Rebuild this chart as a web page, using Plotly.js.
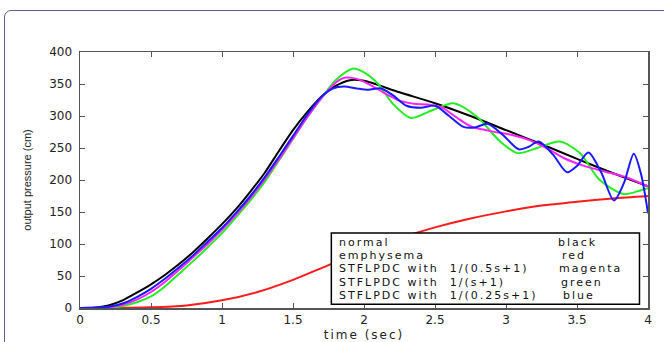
<!DOCTYPE html>
<html>
<head>
<meta charset="utf-8">
<script src="https://cdn.plot.ly/plotly-3.0.1.min.js"></script>
<style>
  html, body { margin: 0; padding: 0; background: #ffffff; }
  #frame { position: absolute; left: 4px; top: 10px; width: 720px; height: 420px;
           border: 1px solid #5c5c8e; border-radius: 7px; background: #ffffff; }
  #chart { position: absolute; left: 0; top: 0; width: 664px; height: 342px; }
  #chart .annotation-text { letter-spacing: 2px; }
  #chart .xtitle { letter-spacing: 2px; }
</style>
</head>
<body>
<div id="frame"></div>
<div id="chart"></div>
<script>
// ---- data ----
const tNormal = [0,0.1,0.2,0.3,0.4,0.5,0.6,0.7,0.8,0.9,1.0,1.1,1.2,1.3,1.4,1.5,1.6,1.7,1.8,1.9,2.0,2.25,2.5,2.75,3.0,3.25,3.5,3.75,4.0];
const pNormal = [0,0.5,4,12,24,37,52,69,88,109,131,155,182,211,245,278,306,330,347,356,355,337,320,300,278,256,233,211,190];

const tEmph = [0,0.25,0.5,0.75,1.0,1.25,1.5,1.75,2.0,2.25,2.5,2.75,3.0,3.25,3.5,3.75,4.0];
const pEmph = [0,0,1,4,12,25,44,67,89,109,126,140,151,160,166,171,175];

const tMag = [0,0.2,0.3,0.4,0.5,0.6,0.7,0.8,0.9,1.0,1.1,1.2,1.3,1.4,1.5,1.6,1.7,1.8,1.87,1.95,2.05,2.15,2.25,2.35,2.45,2.55,2.65,2.75,2.9,3.05,3.17,3.3,3.41,3.55,3.7,3.85,4.0];
const pMag = [0,1,5,13,25,41,60,80,100,122,146,172,201,232,265,298,328,352,360,358,348,335,324,319,318,313,298,284,276,270,262,248,234,222,213,204,190];

const tGreen = [0,0.2,0.3,0.4,0.5,0.6,0.7,0.8,0.9,1.0,1.1,1.2,1.3,1.4,1.5,1.6,1.7,1.8,1.92,2.0,2.1,2.2,2.33,2.48,2.63,2.8,2.95,3.08,3.22,3.38,3.52,3.66,3.83,3.95,4.0];
const pGreen = [0,0,3,9,18,34,54,74,95,117,142,168,197,230,264,298,328,356,374,368,350,320,297,309,320,298,262,242,250,260,242,200,178,184,187];

const tBlue = [0,0.15,0.2,0.3,0.4,0.5,0.6,0.7,0.8,0.9,1.0,1.1,1.2,1.3,1.4,1.5,1.6,1.7,1.78,1.86,1.95,2.03,2.12,2.2,2.3,2.4,2.5,2.6,2.7,2.78,2.87,2.98,3.09,3.16,3.23,3.33,3.43,3.5,3.58,3.67,3.76,3.83,3.9,3.95,4.0];
const pBlue = [0,1,2,7,17,30,46,64,83,104,125,149,175,204,236,269,302,330,343,346,343,341,343,333,316,313,316,300,283,282,288,270,248,252,260,240,212,222,243,212,168,195,241,210,148];

const legendNames  = ["normal", "emphysema", "STFLPDC with\u00A0 1/(0.5s+1)", "STFLPDC with\u00A0 1/(s+1)", "STFLPDC with\u00A0 1/(0.25s+1)"];
const legendColors = ["black", "red", "magenta", "green", "blue"];
const xTicks = [0,0.5,1,1.5,2,2.5,3,3.5,4];
const xTickText = ["0","0.5","1","1.5","2","2.5","3","3.5","4"];
const yTicks = [0,50,100,150,200,250,300,350,400];

// ---- styling ----
const FONT = "DejaVu Sans, Arial, sans-serif";
const LETTER_SPACING = 2;
function line(t, p, color, name) {
  return { x: t, y: p, type: "scatter", mode: "lines", name: name,
           line: { color: color, width: 2, shape: "spline", smoothing: 0.8 },
           hoverinfo: "skip" };
}
const traces = [
  line(tNormal, pNormal, "#000000", legendNames[0]),
  line(tEmph, pEmph, "#ff1a1a", legendNames[1]),
  line(tGreen, pGreen, "#22ee22", legendNames[3]),
  line(tMag, pMag, "#ff22ff", legendNames[2]),
  line(tBlue, pBlue, "#1a1aff", legendNames[4])
];

// legend box drawn as text (letter-spacing widens centred text on both sides,
// so shift right by half of the added width to keep the left edge in place)
const rowY = [102.2, 81.6, 61, 40.4, 19.8];
const colX = [3.359, 3.387, 3.366, 3.380, 3.394];
const annotations = [];
for (let i = 0; i < legendNames.length; i++) {
  annotations.push({ x: 1.817, y: rowY[i], xref: "x", yref: "y", text: legendNames[i],
    showarrow: false, xanchor: "left", yanchor: "middle", borderpad: 0,
    xshift: legendNames[i].length * LETTER_SPACING / 2,
    font: { family: FONT, size: 11, color: "#111" } });
  annotations.push({ x: colX[i], y: rowY[i], xref: "x", yref: "y", text: legendColors[i],
    showarrow: false, xanchor: "left", yanchor: "middle", borderpad: 0,
    xshift: legendColors[i].length * LETTER_SPACING / 2,
    font: { family: FONT, size: 11, color: "#111" } });
}

const layout = {
  width: 664, height: 342,
  margin: { l: 80, r: 16, t: 52, b: 34 },
  paper_bgcolor: "rgba(0,0,0,0)",
  plot_bgcolor: "#ffffff",
  showlegend: false,
  font: { family: FONT, size: 12, color: "#222" },
  xaxis: {
    range: [0, 4], tickvals: xTicks, ticktext: xTickText,
    ticks: "inside", ticklen: 5, tickcolor: "#555", tickwidth: 1,
    showline: true, linecolor: "#555", linewidth: 1.5, mirror: "ticks",
    showgrid: false, zeroline: false, automargin: false,
    tickfont: { family: FONT, size: 12, color: "#222" },
    title: { text: "time (sec)", standoff: 5, font: { family: FONT, size: 12, color: "#222" } }
  },
  yaxis: {
    range: [0, 400], tickvals: yTicks,
    ticks: "inside", ticklen: 5, tickcolor: "#555", tickwidth: 1,
    showline: true, linecolor: "#555", linewidth: 1.5, mirror: "ticks",
    showgrid: false, zeroline: false, automargin: false, ticklabelstandoff: 4,
    tickfont: { family: FONT, size: 12, color: "#222" },
    title: { text: "output pressure (cm)", standoff: 15, font: { family: "Liberation Sans, Arial, sans-serif", size: 11, color: "#222" } }
  },
  shapes: [{
    type: "rect", xref: "x", yref: "y", x0: 1.77, x1: 3.94, y0: 6, y1: 117,
    line: { color: "#000", width: 1.5 }, fillcolor: "#ffffff", layer: "above"
  }],
  annotations: annotations
};

Plotly.newPlot("chart", traces, layout, { displayModeBar: false, staticPlot: true });
</script>
</body>
</html>
